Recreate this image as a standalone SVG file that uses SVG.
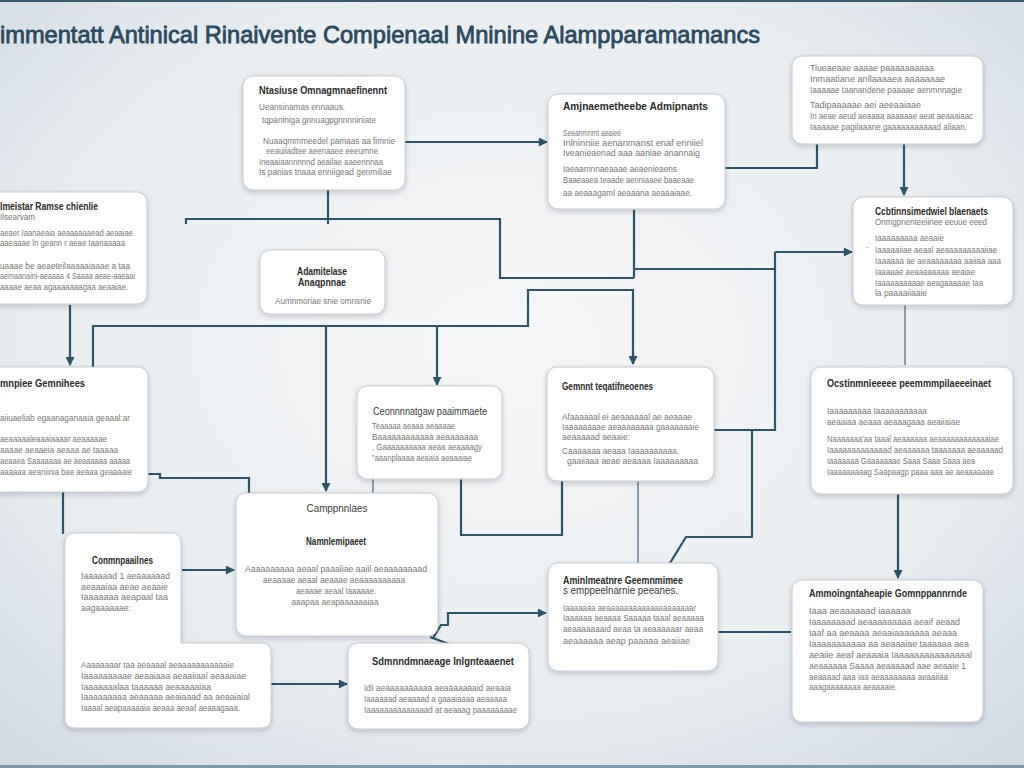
<svg xmlns="http://www.w3.org/2000/svg" width="1024" height="768" viewBox="0 0 1024 768">
<defs>
<radialGradient id="bg" cx="50%" cy="45%" r="75%">
<stop offset="0" stop-color="#f5f6f7"/>
<stop offset="0.6" stop-color="#eaeef1"/>
<stop offset="1" stop-color="#cfdae3"/>
</radialGradient>
<filter id="sh" x="-10%" y="-10%" width="120%" height="125%">
<feDropShadow dx="0" dy="2" stdDeviation="2.5" flood-color="#1c2a33" flood-opacity="0.22"/>
</filter>
<marker id="ah" viewBox="0 0 10 10" refX="9" refY="5" markerWidth="10" markerHeight="9" markerUnits="userSpaceOnUse" orient="auto">
<path d="M0,0 L10,5 L0,10 z" fill="#2d5467"/>
</marker>
<style>
.box{fill:#ffffff;stroke:#c6cdd3;stroke-width:1;filter:url(#sh)}
.t{font-family:"Liberation Sans",Arial,sans-serif;font-size:10px;font-weight:bold;fill:#2b2b2b}
.tr{font-family:"Liberation Sans",Arial,sans-serif;font-size:10px;fill:#3a3a3a}
.b{font-family:"Liberation Sans",Arial,sans-serif;font-size:8.5px;fill:#777777}
.c{fill:none;stroke:#2d5467;stroke-width:2.2}
.cf{fill:none;stroke:#6f8a98;stroke-width:1.6}
.ttl{font-family:"Liberation Sans",Arial,sans-serif;font-size:24px;fill:#2b4a5f;stroke:#2b4a5f;stroke-width:0.8}
</style>
</defs>
<rect width="1024" height="768" fill="url(#bg)"/>
<rect x="0" y="0" width="1024" height="2" fill="#3d5b6e"/>
<rect x="0" y="765" width="1024" height="3" fill="#7e99ac"/>
<text class="ttl" x="0" y="43" textLength="760" lengthAdjust="spacingAndGlyphs">immentatt Antinical Rinaivente Compienaal Mninine Alampparamamancs</text>

<g id="connectors">
<path class="c" d="M405,142 H547" marker-end="url(#ah)"/>
<path class="c" d="M328,190 V224"/>
<path class="c" d="M186,224 V219 H500 V278 H634"/>
<path class="c" d="M634,210 V278"/>
<path class="c" d="M634,269 H775"/>
<path class="c" d="M775,252 H852" marker-end="url(#ah)"/>
<path class="c" d="M775,252 V430 H714"/>
<path class="c" d="M752,430 V537 H686 L670,563"/>
<path class="c" d="M725,168 H817 V144"/>
<path class="c" d="M904,144 V195" marker-end="url(#ah)"/>
<path class="cf" d="M905,305 V365"/>
<path class="c" d="M898,494 V578" marker-end="url(#ah)"/>
<path class="c" d="M718,632 H791"/>
<path class="c" d="M70,305 V365" marker-end="url(#ah)"/>
<path class="c" d="M93,367 V326 H528 V290 H633 V364" marker-end="url(#ah)"/>
<path class="c" d="M326,326 V491" marker-end="url(#ah)"/>
<path class="c" d="M437,326 V385" marker-end="url(#ah)"/>
<path class="c" d="M148,474 H160 V478 H249 V493"/>
<path class="c" d="M63,491 V534"/>
<path class="c" d="M461,479 V535 H562 V481"/>
<path class="cf" d="M638,481 V563"/>
<path class="c" d="M182,570 H234" marker-end="url(#ah)"/>
<path class="c" d="M271,684 H347" marker-end="url(#ah)"/>
<path class="c" d="M433,638 L441,625 H448 V613 H546" marker-end="url(#ah)"/>
<path class="c" d="M430,637 L449,644" stroke-width="3"/>
<path class="cf" d="M373,479 V493"/>
</g>

<g id="n1">
<rect class="box" x="243" y="76" width="162" height="114" rx="10"/>
<text class="t" x="259" y="94" textLength="128" lengthAdjust="spacingAndGlyphs">Ntasiuse Omnagmnaefinennt</text>
<text class="b" x="259" y="110" textLength="86" lengthAdjust="spacingAndGlyphs">Ueansinamas ennaaus.</text>
<text class="b" x="262" y="123" textLength="114" lengthAdjust="spacingAndGlyphs">tqpaniniga gnnuagpgnnnniniate</text>
<text class="b" x="263" y="144" textLength="132" lengthAdjust="spacingAndGlyphs">Nuaaqmmmeedel pamaas aa fimnie</text>
<text class="b" x="266" y="154" textLength="112" lengthAdjust="spacingAndGlyphs">eeauiiadtee aeenaaee eeeumne</text>
<text class="b" x="259" y="165" textLength="124" lengthAdjust="spacingAndGlyphs">Ineaaiaannnnnd aeailae aaeennnaa</text>
<text class="b" x="259" y="175" textLength="133" lengthAdjust="spacingAndGlyphs">Is panias tnaaa enniigead genmiliae</text>
</g>

<g id="n2">
<rect class="box" x="548" y="94" width="177" height="115" rx="10"/>
<text class="t" x="563" y="110" textLength="145" lengthAdjust="spacingAndGlyphs">Amjnaemetheebe Admipnants</text>
<text class="b" x="563" y="136" textLength="58" lengthAdjust="spacingAndGlyphs">Seeanmnmt aeaiee</text>
<text class="b" x="563" y="146" textLength="140" lengthAdjust="spacingAndGlyphs">Inlninniie aenanmanst enaf enniiel</text>
<text class="b" x="563" y="156" textLength="137" lengthAdjust="spacingAndGlyphs">Iveanieaenad aaa aaniae anannaig</text>
<text class="b" x="563" y="172" textLength="114" lengthAdjust="spacingAndGlyphs">Iaeaamnnaeaaae aeaenieaens</text>
<text class="b" x="563" y="183" textLength="131" lengthAdjust="spacingAndGlyphs">Baaeaaea teaade aenniaaee baaeaae</text>
<text class="b" x="563" y="196" textLength="129" lengthAdjust="spacingAndGlyphs">aa aeaaagaml aeaaana aeaaaiaae.</text>
</g>

<g id="n3">
<rect class="box" x="792" y="56" width="191" height="88" rx="10"/>
<text class="b" x="810" y="71" textLength="124" lengthAdjust="spacingAndGlyphs">Tiueaeaae aaaae paaaaaaaaaa</text>
<text class="b" x="810" y="82" textLength="135" lengthAdjust="spacingAndGlyphs">Inmaatiane anllaaaaea aaaaaaae</text>
<text class="b" x="810" y="93" textLength="152" lengthAdjust="spacingAndGlyphs">Iaaaaae taanandene paaaae aenmnnagie</text>
<text class="b" x="810" y="108" textLength="111" lengthAdjust="spacingAndGlyphs">Tadipaaaaae aei aeeaaiaae</text>
<text class="b" x="810" y="119" textLength="163" lengthAdjust="spacingAndGlyphs">In aeae aeud aeaaaa aaaaaae aeat aeaaaiaac</text>
<text class="b" x="810" y="130" textLength="157" lengthAdjust="spacingAndGlyphs">Iaaaaae pagilaaane gaaaaaaaaaaad aliaan.</text>
</g>

<g id="n4">
<rect class="box" x="-12" y="192" width="159" height="112" rx="10"/>
<text class="t" x="0" y="210" textLength="98" lengthAdjust="spacingAndGlyphs">Imeistar  Ramse chienlie</text>
<text class="b" x="0" y="220" textLength="35" lengthAdjust="spacingAndGlyphs">Ilsearvam</text>
<text class="b" x="0" y="236" textLength="133" lengthAdjust="spacingAndGlyphs">aeaer Iaanaeaia aeaaaaaaead aeaaiae</text>
<text class="b" x="0" y="246" textLength="125" lengthAdjust="spacingAndGlyphs">aaeaaae ln geann r aeae Iaanaaaaa</text>
<text class="b" x="0" y="269" textLength="130" lengthAdjust="spacingAndGlyphs">uaaae be aeaeteilaaaaaiaaae a taa</text>
<text class="b" x="0" y="279" textLength="135" lengthAdjust="spacingAndGlyphs">aemaanaini-aeaaaa 4 Saaaa aeae-aaeaai</text>
<text class="b" x="0" y="290" textLength="128" lengthAdjust="spacingAndGlyphs">aaaae aeaa agaaaaaaagaa aeaaiae.</text>
</g>

<g id="n5">
<rect class="box" x="260" y="250" width="125" height="64" rx="10"/>
<text class="t" x="322" y="275" text-anchor="middle" textLength="50" lengthAdjust="spacingAndGlyphs">Adamitelase</text>
<text class="t" x="322" y="286" text-anchor="middle" textLength="48" lengthAdjust="spacingAndGlyphs">Anaqpnnae</text>
<text class="b" x="323" y="304" text-anchor="middle" textLength="96" lengthAdjust="spacingAndGlyphs">Aumnmoriae snie omnsnie</text>
</g>

<g id="n6">
<rect class="box" x="-12" y="367" width="160" height="125" rx="10"/>
<text class="t" x="0" y="387" textLength="85" lengthAdjust="spacingAndGlyphs">mnpiee Gemnihees</text>
<text class="b" x="0" y="421" textLength="130" lengthAdjust="spacingAndGlyphs">aiiuaeliab egaanaganaaia geaaal:ar</text>
<text class="b" x="0" y="442" textLength="107" lengthAdjust="spacingAndGlyphs">aeaaaaaleaaaiaaaar aeaaaaae</text>
<text class="b" x="0" y="453" textLength="118" lengthAdjust="spacingAndGlyphs">aaaae aeaaeia aeaaa ae taaaaa</text>
<text class="b" x="0" y="464" textLength="130" lengthAdjust="spacingAndGlyphs">aeaaea Saaaaaaa ae aeaaaaaa aaaaa</text>
<text class="b" x="0" y="475" textLength="132" lengthAdjust="spacingAndGlyphs">aaaaaa aeaniinia bae aeaaa geaaaaie</text>
</g>

<g id="n7">
<rect class="box" x="357" y="386" width="145" height="93" rx="10"/>
<text class="tr" x="373" y="415" textLength="114" lengthAdjust="spacingAndGlyphs">Ceonnnnatgaw paaimmaete</text>
<text class="b" x="372" y="429" textLength="83" lengthAdjust="spacingAndGlyphs">Teaaaaa aeaaa aeaaaae</text>
<text class="b" x="372" y="440" textLength="106" lengthAdjust="spacingAndGlyphs">Baaaaaaaaaaaa aeaaaaaaa</text>
<text class="b" x="372" y="450" textLength="110" lengthAdjust="spacingAndGlyphs">. Gaaaaaaaaaa aeaa aeaaaagy</text>
<text class="b" x="372" y="461" textLength="100" lengthAdjust="spacingAndGlyphs">"aaanplaaaa aeaaia aeaaaiae</text>
</g>

<g id="n8">
<rect class="box" x="547" y="367" width="167" height="114" rx="10"/>
<text class="t" x="562" y="390" textLength="91" lengthAdjust="spacingAndGlyphs">Gemnnt teqatifneoenes</text>
<text class="b" x="562" y="420" textLength="130" lengthAdjust="spacingAndGlyphs">Afaaaaaal ei aeaaaaaal ae aeaaae</text>
<text class="b" x="562" y="430" textLength="137" lengthAdjust="spacingAndGlyphs">Iaaaaaaaae aeaaaaaaaa gaaaaaaaie</text>
<text class="b" x="562" y="440" textLength="68" lengthAdjust="spacingAndGlyphs">aeaaaaad aeaaie:</text>
<text class="b" x="562" y="454" textLength="117" lengthAdjust="spacingAndGlyphs">Caaaaaaa aeaaa Iaaaaaaaaaa.</text>
<text class="b" x="567" y="464" textLength="131" lengthAdjust="spacingAndGlyphs">gaaiiaaa aeae aeaaaa Iaaaaaaaaa</text>
</g>

<g id="n9">
<rect class="box" x="811" y="367" width="202" height="127" rx="10"/>
<text class="t" x="827" y="387" textLength="164" lengthAdjust="spacingAndGlyphs">Ocstinmnieeeee peemmmpilaeeeinaet</text>
<text class="b" x="827" y="414" textLength="100" lengthAdjust="spacingAndGlyphs">Iaaaaaaaaa Iaaaaaaaaaaa</text>
<text class="b" x="827" y="425" textLength="133" lengthAdjust="spacingAndGlyphs">aeaaiaa aeaaa aeaaagaaa aeaiiaiae</text>
<text class="b" x="827" y="442" textLength="172" lengthAdjust="spacingAndGlyphs">Naaaaaaa'aa taaal aeaaaaaa aeaaaaaaaaaaaaiae</text>
<text class="b" x="827" y="453" textLength="176" lengthAdjust="spacingAndGlyphs">Iaaaaaaaaaaaaad aeaaaaaa taaaaaaa aeaaaaad</text>
<text class="b" x="827" y="464" textLength="148" lengthAdjust="spacingAndGlyphs">Iaaaaaaa Gaaaaaaae Saaa Saaa Saaa aea</text>
<text class="b" x="827" y="475" textLength="167" lengthAdjust="spacingAndGlyphs">Iaaaaaaaaag Saapaagp paaa aaa ae aeaaaaaae</text>
</g>

<g id="n10">
<rect class="box" x="853" y="197" width="160" height="108" rx="10"/>
<text class="t" x="875" y="215" textLength="113" lengthAdjust="spacingAndGlyphs">Ccbtinnsimedwiel blaenaets</text>
<text class="b" x="875" y="225" textLength="112" lengthAdjust="spacingAndGlyphs">Onmgpnenteeiinee eeuue eeed</text>
<text class="b" x="866" y="250">·</text>
<text class="b" x="875" y="241" textLength="69" lengthAdjust="spacingAndGlyphs">Iaaaaaaaaa aeaaie</text>
<text class="b" x="875" y="253" textLength="122" lengthAdjust="spacingAndGlyphs">Iaaaaaiiae aeaal aeaaaaaaaaaiiae</text>
<text class="b" x="875" y="264" textLength="126" lengthAdjust="spacingAndGlyphs">Iaaaaaa ae aeaaaaaaaa aaiiaa aaa</text>
<text class="b" x="875" y="275" textLength="100" lengthAdjust="spacingAndGlyphs">Iaaaaae aeaaaaaaaa aeaiae</text>
<text class="b" x="875" y="286" textLength="108" lengthAdjust="spacingAndGlyphs">Iaaaaaaaaaae aeagaaaaae Iaa</text>
<text class="b" x="875" y="296" textLength="52" lengthAdjust="spacingAndGlyphs">la paaaaiiaaie</text>
</g>

<g id="n11">
<rect class="box" x="236" y="493" width="202" height="143" rx="10"/>
<text class="tr" x="337" y="512" text-anchor="middle" textLength="61" lengthAdjust="spacingAndGlyphs">Camppnnlaes</text>
<text class="t" x="336" y="545" text-anchor="middle" textLength="60" lengthAdjust="spacingAndGlyphs">Namnlemipaeet</text>
<text class="b" x="336" y="572" text-anchor="middle" textLength="182" lengthAdjust="spacingAndGlyphs">Aaaaaaaaaa aeaal paaaliae aaiil aeaaaaaaaad</text>
<text class="b" x="334" y="583" text-anchor="middle" textLength="142" lengthAdjust="spacingAndGlyphs">aeaaaae aeaal aeaaae aeaaaaaaaaaa</text>
<text class="b" x="336" y="594" text-anchor="middle" textLength="80" lengthAdjust="spacingAndGlyphs">aeaaae aeaal Iaaaaae.</text>
<text class="b" x="335" y="605" text-anchor="middle" textLength="87" lengthAdjust="spacingAndGlyphs">aaapaa aeapaaaaaaiaa</text>
</g>

<g id="n12">
<path class="box" d="M75,533 H171 Q181,533 181,543 V643 H261 Q271,643 271,653 V718 Q271,728 261,728 H75 Q65,728 65,718 V543 Q65,533 75,533 Z"/>
<text class="t" x="92" y="564" textLength="61" lengthAdjust="spacingAndGlyphs">Conmnpaailnes</text>
<text class="b" x="81" y="579" textLength="89" lengthAdjust="spacingAndGlyphs">Iaaaaaad 1 aeaaaaaad</text>
<text class="b" x="81" y="590" textLength="87" lengthAdjust="spacingAndGlyphs">aeaaaiaa aeae aeaaie</text>
<text class="b" x="81" y="600" textLength="87" lengthAdjust="spacingAndGlyphs">Iaaaaaaa aeapaal taa</text>
<text class="b" x="81" y="611" textLength="50" lengthAdjust="spacingAndGlyphs">aagaaaaaae:</text>
<text class="b" x="81" y="668" textLength="153" lengthAdjust="spacingAndGlyphs">Aaaaaaaar taa aeaaaal aeaaaaaaaaaaaie</text>
<text class="b" x="81" y="679" textLength="165" lengthAdjust="spacingAndGlyphs">Iaaaaaaaaae aeaaiaaa aeaaiiaal aeaaaiae</text>
<text class="b" x="81" y="690" textLength="130" lengthAdjust="spacingAndGlyphs">Iaaaaaaalaa taaaaaa aeaaaaaiaa</text>
<text class="b" x="81" y="700" textLength="169" lengthAdjust="spacingAndGlyphs">Iaaaaaaaaa aeaaaaa aeaiaaad aa aeaaiaial</text>
<text class="b" x="81" y="711" textLength="159" lengthAdjust="spacingAndGlyphs">Iaaaal aeapaaaaaia aeaaa aeaaf aeaaagaaa.</text>
</g>

<g id="n13">
<rect class="box" x="348" y="643" width="181" height="86" rx="10"/>
<text class="t" x="372" y="665" textLength="142" lengthAdjust="spacingAndGlyphs">Sdmnndmnaeage Inlgnteaaenet</text>
<text class="b" x="364" y="691" textLength="147" lengthAdjust="spacingAndGlyphs">IdI aeaaaaaaaaaa aeaaaaaaaid aeaaia</text>
<text class="b" x="364" y="702" textLength="143" lengthAdjust="spacingAndGlyphs">Iaaaaaad aeaaaad a gaaaiaaaa aeaaaaa</text>
<text class="b" x="364" y="713" textLength="153" lengthAdjust="spacingAndGlyphs">Iaaaaaaaaaaaaaad at aeaaag paaaaaaaae</text>
</g>

<g id="n14">
<rect class="box" x="548" y="563" width="170" height="108" rx="10"/>
<text class="t" x="563" y="584" textLength="120" lengthAdjust="spacingAndGlyphs">Aminlmeatnre Geemnmimee</text>
<text class="tr" x="563" y="594" textLength="115" lengthAdjust="spacingAndGlyphs">s emppeelnarnie peeanes.</text>
<text class="b" x="563" y="611" textLength="133" lengthAdjust="spacingAndGlyphs">Iaaaaaaa aeaaaaaaaaaaaaaaaaaaaar</text>
<text class="b" x="563" y="621" textLength="141" lengthAdjust="spacingAndGlyphs">Iaaaaaa aeaaaa Saaaaa taaal aeaaaaa</text>
<text class="b" x="563" y="632" textLength="140" lengthAdjust="spacingAndGlyphs">aeaaaaaaaid aeaa ta aeaaaaaar aeaa</text>
<text class="b" x="563" y="644" textLength="127" lengthAdjust="spacingAndGlyphs">aeaaaaaa aeap paaaaa aeaiiae</text>
</g>

<g id="n15">
<rect class="box" x="792" y="580" width="191" height="142" rx="10"/>
<text class="t" x="809" y="597" textLength="158" lengthAdjust="spacingAndGlyphs">Ammoingntaheapie Gomnppannrnde</text>
<text class="b" x="809" y="614" textLength="102" lengthAdjust="spacingAndGlyphs">Iaaa aeaaaaaad iaaaaaa</text>
<text class="b" x="809" y="625" textLength="151" lengthAdjust="spacingAndGlyphs">Iaaaaaaaad aeaaaaaaaaa aeaif aeaad</text>
<text class="b" x="809" y="636" textLength="148" lengthAdjust="spacingAndGlyphs">Iaaf aa aeaaaa aeaaiaaaaaaa aeaaa</text>
<text class="b" x="809" y="647" textLength="160" lengthAdjust="spacingAndGlyphs">Iaaaaaaaaaaa aa aeaaaiae taaaaaa aea</text>
<text class="b" x="809" y="658" textLength="163" lengthAdjust="spacingAndGlyphs">aeaiie aeaf aeaaaia Iaaaaaaaaaaaaaaal</text>
<text class="b" x="809" y="669" textLength="157" lengthAdjust="spacingAndGlyphs">aeaaaaaa Saaaa aeaaaaad aae aeaaie 1</text>
<text class="b" x="809" y="680" textLength="139" lengthAdjust="spacingAndGlyphs">aeaaaad aaa iaa aeaaaaaaaa aeaaiiaa</text>
<text class="b" x="809" y="690" textLength="88" lengthAdjust="spacingAndGlyphs">aaagaaaaaaaa aeaaaaie.</text>
</g>
</svg>
